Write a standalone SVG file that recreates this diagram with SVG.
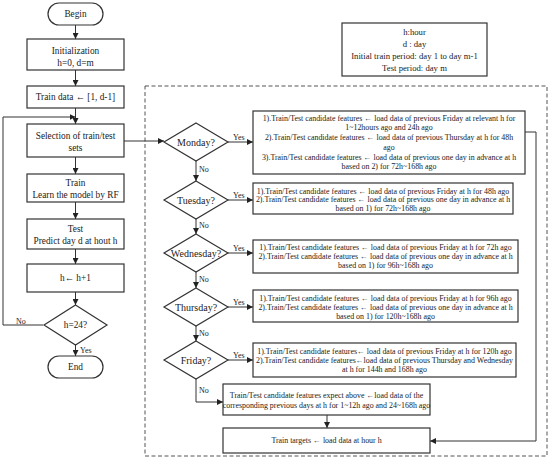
<svg xmlns="http://www.w3.org/2000/svg" width="550" height="460" viewBox="0 0 550 460" font-family="'Liberation Serif', 'Times New Roman', serif">
<defs>
<marker id="ah" viewBox="0 0 10 10" refX="10" refY="5" markerWidth="6" markerHeight="6" markerUnits="userSpaceOnUse" orient="auto">
<path d="M0,0 L10,5 L0,10 z" fill="#222"/>
</marker>
<style>
text{font-family:'Liberation Serif','Times New Roman',serif;fill:#222;text-anchor:middle;dominant-baseline:central}
.box{fill:#fff;stroke:#333;stroke-width:1.2}
.n{font-size:9.3px}
.d{font-size:10px}
.s{font-size:7.9px}
.l{font-size:8.7px}
.lab{font-size:8px;text-anchor:start}
.ca{fill:none;stroke:#333;stroke-width:1;marker-end:url(#ah)}
</style>
</defs>
<rect width="550" height="460" fill="#fff"/>
<rect x="145" y="86" width="402" height="370" fill="none" stroke="#555" stroke-width="1" stroke-dasharray="4,2.5"/>
<g id="connectors">
<path class="ca" d="M75.5,25 V39"/>
<path class="ca" d="M75.5,70 V86"/>
<path class="ca" d="M75.5,108 V124"/>
<path class="ca" d="M75.5,157 V174"/>
<path class="ca" d="M75.5,202 V219"/>
<path class="ca" d="M75.5,249 V264"/>
<path class="ca" d="M75.5,292 V305"/>
<path class="ca" d="M75.5,345 V356"/>
<path class="ca" d="M43,325 H3 V117 H75.5"/>
<path class="ca" d="M124,141 H164"/>
<path class="ca" d="M196,161 V181"/>
<path class="ca" d="M196,219 V234"/>
<path class="ca" d="M196,272 V288"/>
<path class="ca" d="M196,326 V341"/>
<path class="ca" d="M196,379 V402 H223"/>
<path class="ca" d="M228,142 H253"/>
<path class="ca" d="M228,200 H253"/>
<path class="ca" d="M228,253 H253"/>
<path class="ca" d="M228,307 H253"/>
<path class="ca" d="M228,360 H253"/>
<path class="ca" d="M327,415 V428"/>
<path class="ca" d="M525,132 H536 V441 H430"/>
<text class="lab" x="16" y="321">No</text>
<text class="lab" x="80" y="350">Yes</text>
<text class="lab" x="233" y="137">Yes</text>
<text class="lab" x="233" y="195">Yes</text>
<text class="lab" x="233" y="248">Yes</text>
<text class="lab" x="233" y="302">Yes</text>
<text class="lab" x="233" y="355">Yes</text>
<text class="lab" x="199" y="169">No</text>
<text class="lab" x="199" y="225">No</text>
<text class="lab" x="199" y="279">No</text>
<text class="lab" x="199" y="333">No</text>
<text class="lab" x="199" y="390">No</text>
</g>
<g id="begin">
<rect class="box" x="48" y="3" width="55" height="22" rx="11"/>
<text class="n" x="75.5" y="14">Begin</text>
</g>
<g id="init">
<rect class="box" x="27" y="39" width="97" height="31"/>
<text class="n" x="75.5" y="51">Initialization</text>
<text class="n" x="75.5" y="63">h=0, d=m</text>
</g>
<g id="traindata">
<rect class="box" x="27" y="86" width="97" height="22"/>
<text class="n" x="75.5" y="97">Train data ← [1, d-1]</text>
</g>
<g id="selection">
<rect class="box" x="27" y="124" width="97" height="33"/>
<text class="n" x="75.5" y="136">Selection of train/test</text>
<text class="n" x="75.5" y="148">sets</text>
</g>
<g id="train">
<rect class="box" x="27" y="174" width="97" height="28"/>
<text class="n" x="75.5" y="183">Train</text>
<text class="n" x="75.5" y="195">Learn the model by RF</text>
</g>
<g id="test">
<rect class="box" x="27" y="219" width="97" height="30"/>
<text class="n" x="75.5" y="229">Test</text>
<text class="n" x="75.5" y="241">Predict day d at hout h</text>
</g>
<g id="hinc">
<rect class="box" x="27" y="264" width="97" height="28"/>
<text class="n" x="75.5" y="278">h← h+1</text>
</g>
<g id="h24">
<path class="box" d="M75.5,305 L107,325 L75.5,345 L44,325 z"/>
<text class="n" x="75.5" y="325">h=24?</text>
</g>
<g id="end">
<rect class="box" x="48" y="356" width="55" height="22" rx="11"/>
<text class="n" x="75.5" y="367">End</text>
</g>
<g id="legend">
<rect class="box" x="342" y="23" width="145" height="53"/>
<text class="l" x="414.5" y="32">h:hour</text>
<text class="l" x="414.5" y="44">d : day</text>
<text class="l" x="414.5" y="56">Initial train period: day 1 to day m-1</text>
<text class="l" x="414.5" y="68">Test period: day m</text>
</g>
<g id="monday">
<path class="box" d="M196,123 L228,142 L196,161 L164,142 z"/>
<text class="d" x="196" y="142">Monday?</text>
</g>
<g id="tuesday">
<path class="box" d="M196,181 L228,200 L196,219 L164,200 z"/>
<text class="d" x="196" y="200">Tuesday?</text>
</g>
<g id="wednesday">
<path class="box" d="M196,234 L228,253 L196,272 L164,253 z"/>
<text class="d" x="196" y="253">Wednesday?</text>
</g>
<g id="thursday">
<path class="box" d="M196,288 L228,307 L196,326 L164,307 z"/>
<text class="d" x="196" y="307">Thursday?</text>
</g>
<g id="friday">
<path class="box" d="M196,341 L228,360 L196,379 L164,360 z"/>
<text class="d" x="196" y="360">Friday?</text>
</g>
<g id="monbox">
<rect class="box" x="253" y="111" width="272" height="63"/>
<text class="s" x="389" y="118">1).Train/Test candidate features  ←  load data of previous Friday at relevant h for</text>
<text class="s" x="389" y="127.5">1~12hours ago and 24h ago</text>
<text class="s" x="389" y="137.5">2).Train/Test candidate features ←  load data of previous Thursday at  h for  48h</text>
<text class="s" x="389" y="147">ago</text>
<text class="s" x="389" y="157">3).Train/Test candidate features ←  load data of previous one day in advance at h</text>
<text class="s" x="389" y="166.5">based on 2) for 72h~168h ago</text>
</g>
<g id="tuebox">
<rect class="box" x="253" y="183" width="260" height="31"/>
<text class="s" x="383" y="191">1).Train/Test candidate features ←   load data of previous Friday at h for 48h ago</text>
<text class="s" x="383" y="199.5">2).Train/Test candidate features ←  load data of previous one day in advance at h</text>
<text class="s" x="383" y="208">based on 1) for 72h~168h ago</text>
</g>
<g id="wedbox">
<rect class="box" x="253" y="240" width="265" height="33"/>
<text class="s" x="385.5" y="247">1).Train/Test candidate features ←  load data of previous Friday at h for  72h ago</text>
<text class="s" x="385.5" y="256">2).Train/Test candidate features ←  load data of previous one day in advance at h</text>
<text class="s" x="385.5" y="265">based on 1) for 96h~168h ago</text>
</g>
<g id="thubox">
<rect class="box" x="253" y="290" width="265" height="32"/>
<text class="s" x="385.5" y="298">1).Train/Test candidate features ←  load data of previous Friday at h for  96h ago</text>
<text class="s" x="385.5" y="307">2).Train/Test candidate features ←  load data of previous one day in advance at h</text>
<text class="s" x="385.5" y="316">based on 1) for 120h~168h ago</text>
</g>
<g id="fribox">
<rect class="box" x="253" y="343" width="263" height="34"/>
<text class="s" x="384.5" y="351.5">1).Train/Test candidate features← load data of previous Friday at h for 120h ago</text>
<text class="s" x="384.5" y="360">2).Train/Test candidate features←load data of previous Thursday and Wednesday</text>
<text class="s" x="384.5" y="369">at h for  144h and 168h ago</text>
</g>
<g id="otherbox">
<rect class="box" x="223" y="384" width="207" height="31"/>
<text class="s" x="326.5" y="395">Train/Test candidate features expect above ←load data of the</text>
<text class="s" x="326.5" y="405">corresponding previous days at h for 1~12h ago and 24~168h ago</text>
</g>
<g id="targets">
<rect class="box" x="223" y="428" width="207" height="25"/>
<text class="s" x="326.5" y="440.5">Train targets  ←  load data at hour h</text>
</g>
</svg>
